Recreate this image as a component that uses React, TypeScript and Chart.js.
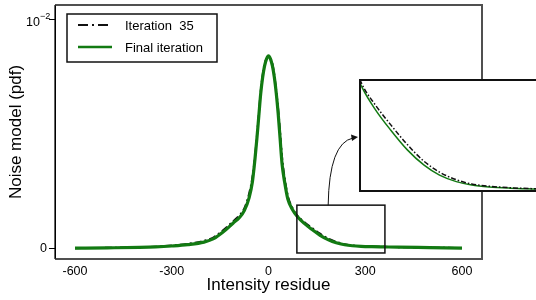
import React, { useEffect, useRef } from 'react';
import { Chart, registerables } from 'chart.js';

Chart.register(...registerables);

// ---- data ----
const xValues = [-600, -500, -400, -350, -300, -250, -200, -170, -140, -110, -90, -75, -60, -50, -42, -36, -30, -24, -18, -12, -6, 0, 6, 12, 18, 24, 30, 36, 42, 50, 60, 75, 90, 110, 134, 160, 186, 210, 236, 260, 287, 320, 360, 400, 500, 600];
const finalIter = [0.000005, 0.00002, 0.00004, 0.00006, 0.0001, 0.00016, 0.00027, 0.00042, 0.00072, 0.0011, 0.00135, 0.00165, 0.00222, 0.0029, 0.0039, 0.0048, 0.0058, 0.0068, 0.0075, 0.0080, 0.0083, 0.00843, 0.0083, 0.0080, 0.0075, 0.0068, 0.0059, 0.0048, 0.0037, 0.0029, 0.00215, 0.00168, 0.00138, 0.0011, 0.00083, 0.00057, 0.00037, 0.00024, 0.000155, 0.00011, 0.000085, 0.00007, 0.00006, 0.00005, 0.00003, 0.00001];
const iteration35 = [0.000005, 0.00002, 0.00005, 0.00007, 0.00012, 0.0002, 0.00033, 0.00048, 0.0008, 0.00118, 0.00145, 0.00175, 0.0024, 0.0031, 0.0040, 0.0049, 0.0059, 0.0069, 0.0076, 0.0081, 0.0083, 0.0084, 0.0083, 0.0081, 0.0076, 0.0069, 0.0061, 0.0051, 0.0040, 0.0031, 0.0023, 0.00175, 0.00142, 0.00116, 0.0009, 0.00064, 0.00042, 0.00028, 0.00018, 0.000125, 0.000095, 0.000075, 0.000062, 0.00005, 0.00003, 0.00001];
const seriesLabels = ['Iteration  35', 'Final iteration'];
const xTickValues = [-600, -300, 0, 300, 600];
const yTickValues = [0, 0.01];
const xRange = [-662, 662];
const yRange = [-0.000469, 0.010657];
const zoomXRange = [88, 361];
const zoomYRange = [-0.000205, 0.00189];
const insetXRange = [88, 377];
const insetYRange = [0.000046, 0.00147];
const arrowFromX = 185;

const GREEN = '#127a12';
const BLACK = '#111111';
const FONT = '"Liberation Sans", Arial, sans-serif';

const toPoints = (ys: number[]) => xValues.map((x, i) => ({ x, y: ys[i] }));

export default function App() {
  const mainRef = useRef<HTMLCanvasElement>(null);
  const insetRef = useRef<HTMLCanvasElement>(null);

  useEffect(() => {
    if (!mainRef.current || !insetRef.current) return;

    const decor = {
      id: 'decor',
      afterDraw(chart: any) {
        const { ctx, chartArea: a, scales } = chart;
        const xs = scales.x, ys = scales.y;
        ctx.save();
        // plot frame (top, right, bottom)
        ctx.strokeStyle = '#505050';
        ctx.lineWidth = 2;
        ctx.beginPath();
        ctx.moveTo(a.left, a.top);
        ctx.lineTo(a.right, a.top);
        ctx.lineTo(a.right, a.bottom);
        ctx.lineTo(a.left, a.bottom);
        ctx.stroke();
        ctx.strokeStyle = '#000';
        ctx.lineWidth = 1.2;
        ctx.beginPath();
        ctx.moveTo(a.left, a.top);
        ctx.lineTo(a.left, a.bottom);
        ctx.stroke();

        // 10^-2 label
        const yp = ys.getPixelForValue(0.01);
        ctx.fillStyle = '#000';
        ctx.textBaseline = 'middle';
        ctx.textAlign = 'right';
        ctx.font = `12.5px ${FONT}`;
        ctx.fillText('10', 40, yp + 3);
        ctx.textAlign = 'left';
        ctx.font = `9px ${FONT}`;
        ctx.fillText('\u22122', 40, yp - 3);

        // zoom box
        const bx1 = xs.getPixelForValue(zoomXRange[0]);
        const bx2 = xs.getPixelForValue(zoomXRange[1]);
        const by1 = ys.getPixelForValue(zoomYRange[1]);
        const by2 = ys.getPixelForValue(zoomYRange[0]);
        ctx.strokeStyle = '#111';
        ctx.lineWidth = 1.5;
        ctx.strokeRect(bx1, by1, bx2 - bx1, by2 - by1);

        // arrow
        const sx = xs.getPixelForValue(arrowFromX);
        const ex = 357, ey = 137;
        ctx.lineWidth = 1;
        ctx.beginPath();
        ctx.moveTo(sx, by1);
        ctx.quadraticCurveTo(sx + 1, ey + 6, ex - 4, ey + 1);
        ctx.stroke();
        ctx.fillStyle = '#111';
        ctx.beginPath();
        ctx.moveTo(ex + 1, ey);
        ctx.lineTo(ex - 6, ey - 2.5);
        ctx.lineTo(ex - 5, ey + 4);
        ctx.closePath();
        ctx.fill();

        // legend
        const lx = 67, ly = 14, lw = 150, lh = 48;
        ctx.fillStyle = '#fff';
        ctx.fillRect(lx, ly, lw, lh);
        ctx.strokeStyle = '#111';
        ctx.lineWidth = 1.5;
        ctx.strokeRect(lx, ly, lw, lh);
        const rows = [
          { y: 25, color: BLACK, dash: [10, 4, 2, 4], width: 2, text: seriesLabels[0] },
          { y: 47, color: GREEN, dash: [], width: 2.5, text: seriesLabels[1] },
        ];
        rows.forEach((r) => {
          ctx.strokeStyle = r.color;
          ctx.lineWidth = r.width;
          ctx.setLineDash(r.dash);
          ctx.beginPath();
          ctx.moveTo(78, r.y);
          ctx.lineTo(112, r.y);
          ctx.stroke();
          ctx.setLineDash([]);
          ctx.fillStyle = '#000';
          ctx.font = `13px ${FONT}`;
          ctx.textAlign = 'left';
          ctx.textBaseline = 'middle';
          ctx.fillText(r.text, 125, r.y + 1);
        });
        ctx.restore();
      },
    };

    const main = new Chart(mainRef.current, {
      type: 'line',
      data: {
        datasets: [
          {
            label: seriesLabels[1],
            data: toPoints(finalIter),
            borderColor: GREEN,
            borderWidth: 3.2,
            order: 0,
          },
          {
            label: seriesLabels[0],
            data: toPoints(iteration35),
            borderColor: BLACK,
            borderWidth: 2,
            borderDash: [7, 3, 2, 3],
            order: 1,
          },
        ],
      },
      options: {
        animation: false,
        responsive: false,
        devicePixelRatio: 1,
        layout: { padding: { top: 5, right: 54, left: 0, bottom: 0 } },
        elements: {
          point: { radius: 0 },
          line: { cubicInterpolationMode: 'monotone', fill: false },
        },
        plugins: { legend: { display: false }, tooltip: { enabled: false } },
        scales: {
          x: {
            type: 'linear',
            min: xRange[0],
            max: xRange[1],
            grid: { display: false, drawTicks: false },
            border: { display: false },
            afterBuildTicks: (s: any) => { s.ticks = xTickValues.map((v) => ({ value: v })); },
            afterFit: (s: any) => { s.height = 41; s.paddingLeft = 0; s.paddingRight = 0; },
            ticks: {
              color: '#000',
              font: { family: FONT, size: 12.5 },
              padding: 5,
              maxRotation: 0,
              callback: (v: any) => String(v),
            },
            title: {
              display: true,
              text: 'Intensity residue',
              color: '#000',
              font: { family: FONT, size: 17 },
              padding: { top: 0, bottom: 4 },
            },
          },
          y: {
            type: 'linear',
            min: yRange[0],
            max: yRange[1],
            grid: { display: true, drawOnChartArea: false, drawTicks: true, tickLength: 6, color: '#000' },
            border: { display: true, color: '#000', width: 1 },
            afterBuildTicks: (s: any) => { s.ticks = yTickValues.map((v) => ({ value: v })); },
            afterFit: (s: any) => { s.width = 55; s.paddingTop = 0; s.paddingBottom = 0; },
            ticks: {
              color: '#000',
              font: { family: FONT, size: 12.5 },
              padding: 2,
              callback: (v: any) => (v === 0 ? '0' : ''),
            },
            title: {
              display: true,
              text: 'Noise model (pdf)',
              color: '#000',
              font: { family: FONT, size: 17 },
              padding: { top: 6, bottom: 0 },
            },
          },
        },
      },
      plugins: [decor],
    } as any);

    const inset = new Chart(insetRef.current, {
      type: 'line',
      data: {
        datasets: [
          {
            label: seriesLabels[1],
            data: toPoints(finalIter),
            borderColor: GREEN,
            borderWidth: 1.5,
            order: 1,
          },
          {
            label: seriesLabels[0],
            data: toPoints(iteration35),
            borderColor: BLACK,
            borderWidth: 1.5,
            borderDash: [5, 2, 1.5, 2],
            order: 0,
          },
        ],
      },
      options: {
        animation: false,
        responsive: false,
        devicePixelRatio: 1,
        layout: { padding: 0 },
        elements: {
          point: { radius: 0 },
          line: { cubicInterpolationMode: 'monotone', fill: false },
        },
        plugins: { legend: { display: false }, tooltip: { enabled: false } },
        scales: {
          x: { type: 'linear', display: false, min: insetXRange[0], max: insetXRange[1] },
          y: { type: 'linear', display: false, min: insetYRange[0], max: insetYRange[1] },
        },
      },
    } as any);

    return () => {
      main.destroy();
      inset.destroy();
    };
  }, []);

  return (
    <div style={{ position: 'fixed', left: 0, top: 0, width: 536, height: 300, overflow: 'hidden', background: '#fff' }}>
      <canvas ref={mainRef} width={536} height={300} style={{ position: 'absolute', left: 0, top: 0 }} />
      <div
        style={{
          position: 'absolute',
          left: 359,
          top: 79,
          width: 190,
          height: 113,
          boxSizing: 'border-box',
          border: '2px solid #111',
          background: '#fff',
        }}
      >
        <canvas ref={insetRef} width={186} height={109} style={{ display: 'block' }} />
      </div>
    </div>
  );
}
